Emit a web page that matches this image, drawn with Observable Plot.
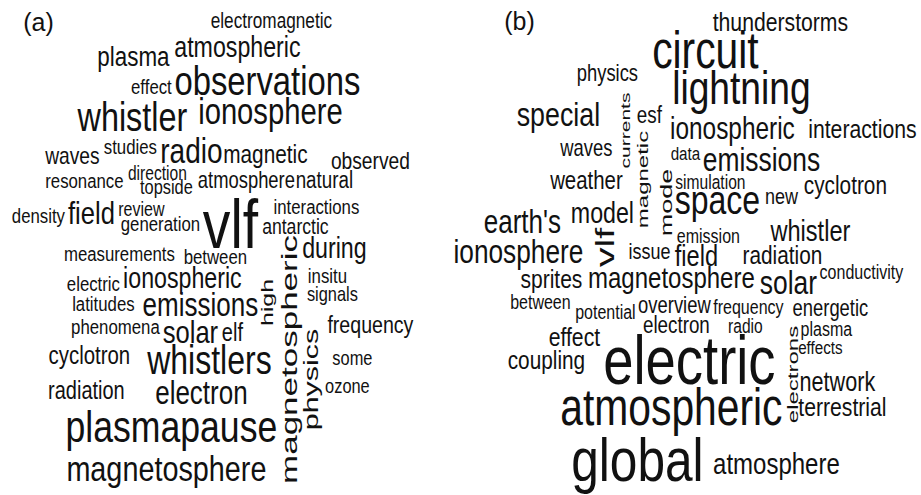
<!DOCTYPE html>
<html>
<head>
<meta charset="utf-8">
<script src="https://cdn.jsdelivr.net/npm/d3@7"></script>
<script src="https://cdn.jsdelivr.net/npm/@observablehq/plot@0.6"></script>
<style>
  html, body { margin: 0; padding: 0; background: #fff; }
  #wrap { position: relative; width: 921px; height: 495px; overflow: hidden; background: #fff; }
  #wrap svg { position: absolute; left: 0; top: 0; }
</style>
</head>
<body>
<div id="wrap"></div>
<script>
// ---- Panel labels ----
const panelLabels = ["(a)", "(b)"];
const panelLabelX = [38, 519];
const panelLabelY = [30.5, 29.5];

// ---- Panel (a) word cloud ----
const wordsA = ["electromagnetic","plasma","atmospheric","effect","observations","whistler","ionosphere",
  "waves","studies","radio","magnetic","observed","resonance","direction","topside","atmosphere","natural",
  "density","field","review","generation","vlf","interactions","antarctic","during","measurements","between",
  "electric","ionospheric","latitudes","emissions","high","magnetospheric","insitu","signals","frequency",
  "phenomena","solar","elf","physics","cyclotron","whistlers","some","ozone","radiation","electron",
  "plasmapause","magnetosphere"];
const xA = [271,133,237,151,267,132,270,72,130,191,265,370,84,157,166,246,324,38,91,141,160,230,316,295,334,
  119,215,93,182,103,200,273,297,327,332,370,115,190,232,318,89,209,352,347,86,201,171,166];
const yA = [27,65,56,93,94,130,123,163,153,162,162,168,187,179,193,187,187,222,223,215,230,247,213,233,257,
  260,263,290,287,310,315,302,359,282,300,332,333,342,340,379,363,373,364,392,398,403,441,480];
const sizeA = [21.5,28,29,21,41,40.5,36.5,24,21,35,26,24,21,19.5,20.5,23,23.5,21,32,20,21,69,21,22,29,
  21,21,21,29,21,32.5,25,35,21,20.5,24.5,21,32,25,30.5,25.5,40,20.5,20.5,25,32.5,44.5,36];
const rotA = [0,0,0,0,0,0,0,0,0,0,0,0,0,0,0,0,0,0,0,0,0,0,0,0,0,0,0,0,0,0,0,-90,-90,0,0,0,0,0,0,-90,
  0,0,0,0,0,0,0,0];

// ---- Panel (b) word cloud ----
const wordsB = ["thunderstorms","circuit","physics","lightning","special","currents","esf","magnetic",
  "ionospheric","interactions","waves","data","emissions","weather","mode","simulation","cyclotron","space",
  "new","earth's","model","vlf","emission","whistler","ionosphere","issue","field","radiation","sprites",
  "magnetosphere","solar","conductivity","between","potential","overview","frequency","energetic","electron",
  "radio","plasma","effect","effects","electrons","coupling","electric","network","atmospheric","terrestrial",
  "global","atmosphere"];
const xB = [780,705,607,741,558,630,649,648,732,862,586,685,761,586,672,710,845,717,781,522,602,614,708,810,
  518,649,696,782,551,671,788,861,540,605,674,748,830,676,745,826,574,820,798,546,689,837,671,842,637,776];
const yB = [30,67,80,103,125,130,122,179,138,137,155,159,170,188,202,188,193,213,203,232,222,247,242,240,
  262,258,265,263,287,287,293,278,308,318,312,313,315,332,332,335,345,353,374,368,383,390,424,415,480,473];
const sizeB = [26.5,51,23,46.5,33.5,21,23.5,24,30.5,26.5,23,19,33,25.5,27,19.5,26,40,22.5,32.5,29,39,20,
  29.5,32.8,22.5,29.5,26,26.3,30,33,20,20,20,23,20,23,23.5,19.5,20,26.5,19,24,26,68,27,51,26.5,62,30];
const rotB = [0,0,0,0,0,-90,0,-90,0,0,0,0,0,0,-90,0,0,0,0,0,0,-90,0,0,0,0,0,0,0,0,0,0,0,0,0,0,0,0,0,0,0,0,
  -90,0,0,0,0,0,0,0];

// Build the table the library needs
const words = [];
wordsA.forEach((w, i) => words.push({panel: "a", text: w, x: xA[i], y: yA[i], size: sizeA[i], rot: rotA[i]}));
wordsB.forEach((w, i) => words.push({panel: "b", text: w, x: xB[i], y: yB[i], size: sizeB[i], rot: rotB[i]}));

const W = 921, H = 495;
const squeeze = 0.8;               // the cloud's type is horizontally condensed
const Wun = W / squeeze;
const font = "'Liberation Sans', Arial, Helvetica, sans-serif";

const cloud = Plot.plot({
  width: Wun, height: H, margin: 0,
  x: {domain: [0, W], range: [0, Wun], axis: null},
  y: {domain: [0, H], range: [0, H], axis: null},
  style: {background: "transparent", overflow: "visible"},
  marks: [
    Plot.text(words, {
      x: "x", y: "y", text: "text", fontSize: "size", rotate: "rot",
      textAnchor: "middle", lineAnchor: "bottom",
      fill: "#111", fontFamily: font
    })
  ]
});
cloud.setAttribute("width", W);
cloud.setAttribute("height", H);
cloud.setAttribute("viewBox", `0 0 ${Wun} ${H}`);
cloud.setAttribute("preserveAspectRatio", "none");
// vertical words are drawn thinner across their stroke direction
d3.select(cloud).selectAll("text").each(function() {
  const t = this.getAttribute("transform");
  if (t && /rotate\(-90\)/.test(t)) this.setAttribute("transform", t + " scale(1,0.8)");
});

const labels = Plot.plot({
  width: W, height: H, margin: 0,
  x: {domain: [0, W], range: [0, W], axis: null},
  y: {domain: [0, H], range: [0, H], axis: null},
  style: {background: "transparent"},
  marks: [
    Plot.text(panelLabels, {
      x: (d, i) => panelLabelX[i], y: (d, i) => panelLabelY[i], text: d => d,
      fontSize: 25, textAnchor: "middle", lineAnchor: "bottom", fill: "#111", fontFamily: font
    })
  ]
});

const wrap = document.getElementById("wrap");
wrap.appendChild(cloud);
wrap.appendChild(labels);
</script>
</body>
</html>
